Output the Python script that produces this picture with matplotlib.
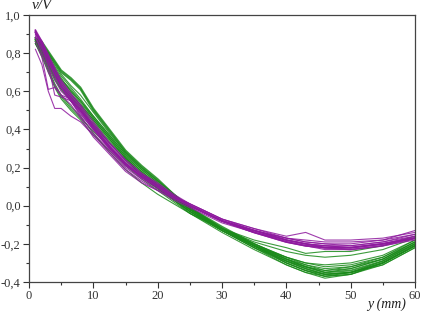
import matplotlib
matplotlib.use("Agg")
import matplotlib.pyplot as plt
from matplotlib.ticker import MultipleLocator, FuncFormatter

plt.rcParams['font.family'] = ['Liberation Serif', 'DejaVu Serif']

x_mm = [1, 2, 3, 4, 5, 6.5, 8, 10, 12.5, 15, 17.5, 20, 22.5, 25, 30, 35, 40, 43, 46, 50, 55, 60]

purple_series = [
    [0.92, 0.86, 0.78, 0.70, 0.63, 0.56, 0.50, 0.41, 0.31, 0.22, 0.16, 0.11, 0.05, 0.00, -0.08, -0.13, -0.18, -0.20, -0.22, -0.22, -0.20, -0.17],
    [0.91, 0.85, 0.77, 0.69, 0.62, 0.55, 0.49, 0.40, 0.30, 0.22, 0.15, 0.10, 0.05, 0.00, -0.08, -0.14, -0.19, -0.21, -0.22, -0.23, -0.21, -0.17],
    [0.90, 0.84, 0.76, 0.70, 0.64, 0.57, 0.51, 0.42, 0.32, 0.23, 0.16, 0.11, 0.05, 0.01, -0.07, -0.13, -0.18, -0.20, -0.21, -0.22, -0.20, -0.16],
    [0.82, 0.74, 0.60, 0.51, 0.51, 0.47, 0.44, 0.37, 0.28, 0.19, 0.13, 0.08, 0.04, 0.00, -0.08, -0.13, -0.17, -0.19, -0.20, -0.21, -0.19, -0.16],
    [0.88, 0.82, 0.73, 0.66, 0.60, 0.55, 0.48, 0.40, 0.30, 0.21, 0.15, 0.10, 0.05, 0.01, -0.07, -0.12, -0.16, -0.14, -0.18, -0.18, -0.17, -0.14],
    [0.92, 0.84, 0.74, 0.58, 0.57, 0.55, 0.47, 0.38, 0.29, 0.20, 0.14, 0.09, 0.04, 0.00, -0.08, -0.13, -0.17, -0.18, -0.19, -0.19, -0.18, -0.13],
    [0.86, 0.78, 0.61, 0.62, 0.58, 0.53, 0.46, 0.36, 0.27, 0.18, 0.12, 0.08, 0.03, -0.01, -0.09, -0.14, -0.18, -0.20, -0.21, -0.21, -0.19, -0.15],
    [0.90, 0.85, 0.78, 0.72, 0.66, 0.59, 0.53, 0.44, 0.33, 0.24, 0.17, 0.11, 0.05, 0.00, -0.08, -0.14, -0.19, -0.21, -0.23, -0.23, -0.21, -0.18],
    [0.89, 0.80, 0.70, 0.63, 0.58, 0.56, 0.50, 0.43, 0.33, 0.24, 0.17, 0.12, 0.06, 0.01, -0.07, -0.12, -0.17, -0.19, -0.20, -0.20, -0.18, -0.15],
    [0.91, 0.86, 0.79, 0.72, 0.65, 0.58, 0.52, 0.42, 0.31, 0.22, 0.15, 0.10, 0.04, 0.00, -0.08, -0.14, -0.19, -0.21, -0.22, -0.22, -0.20, -0.17],
    [0.88, 0.83, 0.75, 0.68, 0.62, 0.56, 0.50, 0.41, 0.31, 0.21, 0.15, 0.10, 0.05, 0.00, -0.08, -0.13, -0.18, -0.20, -0.21, -0.22, -0.20, -0.17],
]

green_series = [
    [0.88, 0.86, 0.81, 0.76, 0.71, 0.67, 0.62, 0.51, 0.40, 0.29, 0.21, 0.14, 0.06, -0.01, -0.11, -0.20, -0.28, -0.32, -0.35, -0.34, -0.29, -0.20],
    [0.87, 0.85, 0.80, 0.75, 0.70, 0.66, 0.61, 0.50, 0.39, 0.28, 0.20, 0.13, 0.06, -0.01, -0.12, -0.21, -0.29, -0.33, -0.36, -0.35, -0.30, -0.21],
    [0.87, 0.84, 0.78, 0.72, 0.67, 0.60, 0.54, 0.46, 0.36, 0.26, 0.18, 0.11, 0.04, -0.02, -0.12, -0.21, -0.29, -0.33, -0.36, -0.35, -0.30, -0.21],
    [0.86, 0.82, 0.76, 0.70, 0.65, 0.59, 0.53, 0.45, 0.35, 0.25, 0.17, 0.10, 0.04, -0.03, -0.13, -0.22, -0.30, -0.34, -0.37, -0.36, -0.30, -0.21],
    [0.88, 0.83, 0.77, 0.71, 0.66, 0.61, 0.55, 0.47, 0.37, 0.27, 0.19, 0.12, 0.05, -0.02, -0.12, -0.21, -0.28, -0.32, -0.35, -0.33, -0.28, -0.19],
    [0.85, 0.80, 0.73, 0.66, 0.61, 0.55, 0.50, 0.42, 0.33, 0.24, 0.16, 0.10, 0.04, -0.02, -0.12, -0.20, -0.27, -0.31, -0.34, -0.33, -0.28, -0.19],
    [0.86, 0.80, 0.72, 0.64, 0.58, 0.52, 0.47, 0.38, 0.28, 0.19, 0.12, 0.06, 0.01, -0.04, -0.12, -0.19, -0.24, -0.26, -0.27, -0.26, -0.23, -0.17],
    [0.87, 0.81, 0.74, 0.67, 0.61, 0.56, 0.50, 0.41, 0.31, 0.22, 0.15, 0.09, 0.03, -0.03, -0.12, -0.18, -0.22, -0.25, -0.24, -0.24, -0.21, -0.16],
    [0.88, 0.84, 0.79, 0.73, 0.68, 0.62, 0.56, 0.47, 0.37, 0.27, 0.19, 0.12, 0.05, -0.02, -0.13, -0.22, -0.31, -0.35, -0.38, -0.36, -0.30, -0.21],
    [0.86, 0.82, 0.75, 0.68, 0.63, 0.57, 0.52, 0.44, 0.34, 0.25, 0.17, 0.10, 0.03, -0.03, -0.13, -0.22, -0.29, -0.32, -0.34, -0.32, -0.27, -0.18],
    [0.87, 0.83, 0.77, 0.71, 0.66, 0.60, 0.55, 0.46, 0.36, 0.26, 0.18, 0.11, 0.05, -0.02, -0.12, -0.21, -0.30, -0.34, -0.37, -0.35, -0.29, -0.20],
    [0.85, 0.79, 0.71, 0.63, 0.57, 0.51, 0.46, 0.39, 0.31, 0.22, 0.15, 0.09, 0.03, -0.03, -0.13, -0.21, -0.27, -0.30, -0.31, -0.30, -0.26, -0.18],
    [0.88, 0.85, 0.80, 0.74, 0.69, 0.63, 0.58, 0.49, 0.38, 0.28, 0.20, 0.13, 0.06, -0.01, -0.12, -0.21, -0.30, -0.34, -0.36, -0.35, -0.31, -0.22],
    [0.86, 0.81, 0.74, 0.68, 0.62, 0.57, 0.51, 0.43, 0.33, 0.24, 0.16, 0.09, 0.03, -0.04, -0.14, -0.23, -0.31, -0.35, -0.37, -0.36, -0.31, -0.22],
    [0.87, 0.82, 0.76, 0.69, 0.64, 0.58, 0.53, 0.45, 0.35, 0.25, 0.17, 0.11, 0.04, -0.02, -0.12, -0.20, -0.27, -0.30, -0.32, -0.31, -0.27, -0.19],
    [0.85, 0.78, 0.70, 0.62, 0.56, 0.50, 0.45, 0.37, 0.29, 0.21, 0.14, 0.08, 0.02, -0.04, -0.13, -0.21, -0.28, -0.31, -0.33, -0.32, -0.28, -0.20],
]
thick_green = [0, 1]
thick_purple = [0, 1, 9]

x_ticks = [0, 10, 20, 30, 40, 50, 60]
y_ticks = [-0.4, -0.2, 0.0, 0.2, 0.4, 0.6, 0.8, 1.0]

purple = '#8e1a9e'
green = '#1a8a1a'

fig = plt.figure(figsize=(4.24, 3.11), dpi=100)
ax = fig.add_axes([29/424, 1 - 282/311, (415 - 29)/424, (282 - 15)/311])

for i, ys in enumerate(green_series):
    ax.plot(x_mm, ys, color=green, lw=1.3 if i in thick_green else 0.8, alpha=0.85)
for i, ys in enumerate(purple_series):
    ax.plot(x_mm, ys, color=purple, lw=1.3 if i in thick_purple else 0.8, alpha=0.85)

ax.set_xlim(0, 60)
ax.set_ylim(-0.4, 1.0)
ax.set_xticks(x_ticks)
ax.set_yticks(y_ticks)
ax.xaxis.set_minor_locator(MultipleLocator(5))
ax.yaxis.set_minor_locator(MultipleLocator(0.1))
ax.yaxis.set_major_formatter(FuncFormatter(lambda v, p: f"{v:.1f}".replace('.', ',').replace('-0,0', '0,0')))
ax.tick_params(which='major', direction='out', length=4, width=0.8, labelsize=9, pad=2, colors='#333333')
ax.tick_params(which='minor', direction='out', length=2, width=0.8, colors='#333333')
for s in ax.spines.values():
    s.set_linewidth(0.9)
    s.set_color('#444444')

fig.text(32/424, 1 - 9/311, 'v/V', style='italic', fontsize=11, va='baseline', ha='left', color='#222222')
fig.text(406/424, 1 - 308/311, 'y (mm)', style='italic', fontsize=10, va='baseline', ha='right', color='#222222')

fig.savefig('out.png', dpi=100)
